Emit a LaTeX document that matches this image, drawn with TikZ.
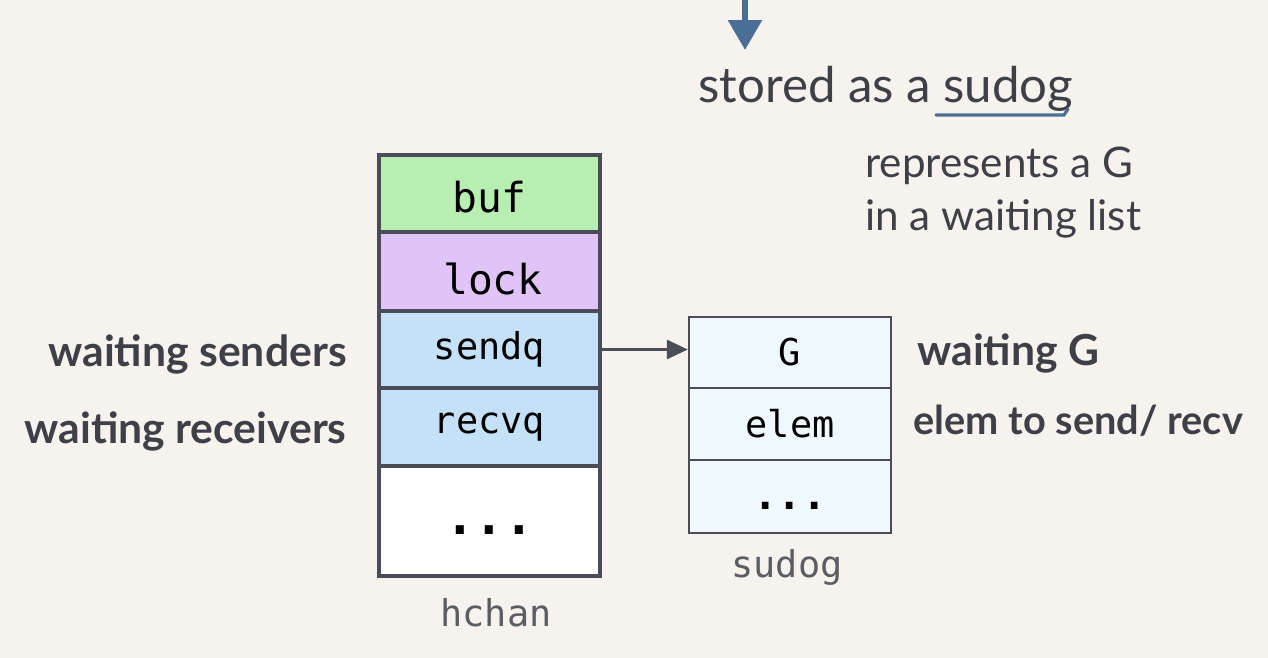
\documentclass[tikz,border=0pt]{standalone}
\usepackage{fontspec}
\setmainfont{Lato}
\newfontfamily\monof{DejaVu Sans Mono}
\usetikzlibrary{arrows.meta}
\definecolor{bg}{HTML}{F6F3EE}
\definecolor{edge}{HTML}{4A4D57}
\definecolor{txt}{HTML}{3F3F47}
\definecolor{bufc}{HTML}{B9EEB2}
\definecolor{lockc}{HTML}{E1C4F7}
\definecolor{qc}{HTML}{C5E1F7}
\definecolor{sudc}{HTML}{EEF8FD}
\definecolor{blu}{HTML}{4A6F96}
\newcommand{\celldots}[1]{\smash{\raisebox{-0.27cm}{\fontsize{#1}{30}\selectfont\bfseries...}}}
\newcommand{\lowtext}[2]{\smash{\raisebox{-#1}{#2}}}
\tikzset{
  hrow/.style={draw=edge, line width=2.3pt, minimum width=4.42cm, inner sep=0pt, font=\monof\fontsize{21}{25}\selectfont, text=black},
  srow/.style={draw=edge, line width=1.4pt, fill=sudc, minimum width=4.04cm, inner sep=0pt, font=\monof\fontsize{21}{25}\selectfont, text=black},
  bigmono/.style={font=\monof\fontsize{23.5}{27}\selectfont},
  lbl/.style={font=\bfseries\fontsize{24.3}{28}\selectfont, text=txt, inner sep=0pt},
  note/.style={font=\fontsize{24}{28}\selectfont, text=txt, inner sep=0pt},
  captxt/.style={font=\monof\fontsize{21}{25}\selectfont, text=txt!85, inner sep=0pt},
}
\begin{document}
\begin{tikzpicture}[x=0.02cm,y=-0.02cm]
\useasboundingbox[fill=bg] (0,0) rectangle (1268,658);
% hchan
\node[hrow, bigmono, fill=bufc, minimum height=1.54cm] (buf) at (489.5,193.5) {\lowtext{11pt}{buf}};
\node[hrow, bigmono, fill=lockc, minimum height=1.58cm] (lock) at (489.5,271.5) {\,\lowtext{13pt}{lock}};
\node[hrow, fill=qc, minimum height=1.54cm] (sendq) at (489.5,349.5) {sendq};
\node[hrow, fill=qc, minimum height=1.56cm] (recvq) at (489.5,427) {recvq};
\node[hrow, fill=white, minimum height=2.2cm] (hdots) at (489.5,521) {\celldots{28}};
\node[captxt] (hchan) at (496,613) {hchan};
% sudog
\node[srow, minimum height=1.42cm] (G) at (790,352.5) {G};
\node[srow, minimum height=1.44cm] (elem) at (790,424) {elem};
\node[srow, minimum height=1.46cm] (sdots) at (790,496.5) {\celldots{23}};
\node[captxt] (sudog) at (787,567) {sudog};
% arrow
\draw[edge, line width=1.8pt, -{Triangle[width=0.38cm,length=0.42cm]}] (sendq.east) -- (sendq.east -| G.west);
% labels
\node[lbl, anchor=east] (ws) at (347,354) {waiting senders};
\node[lbl, anchor=east] (wr) at (347,431) {waiting receivers};
\node[lbl, anchor=west] (wg) at (917,353) {waiting G};
\node[lbl, font=\bfseries\fontsize{22.6}{26}\selectfont, anchor=west] (es) at (913,421) {elem to send/ recv};
% top
\coordinate (ts) at (745,-2);
\coordinate (tt) at (745,50);
\draw[blu, line width=3.4pt, -{Triangle[width=0.66cm,length=0.6cm]}] (ts) -- (tt);
\node[note, font=\fontsize{28}{32}\selectfont, anchor=base west] (stored) at (698,103) {stored as a sudog};
\draw[blu, line width=1.8pt, line cap=round] (936,115) -- (1064,115) -- (1068,109);
\node[note, anchor=base west] (rep) at (865,178) {represents a G};
\node[note, anchor=base west] (wl) at (865,231) {in a waiting list};
\end{tikzpicture}
\end{document}
